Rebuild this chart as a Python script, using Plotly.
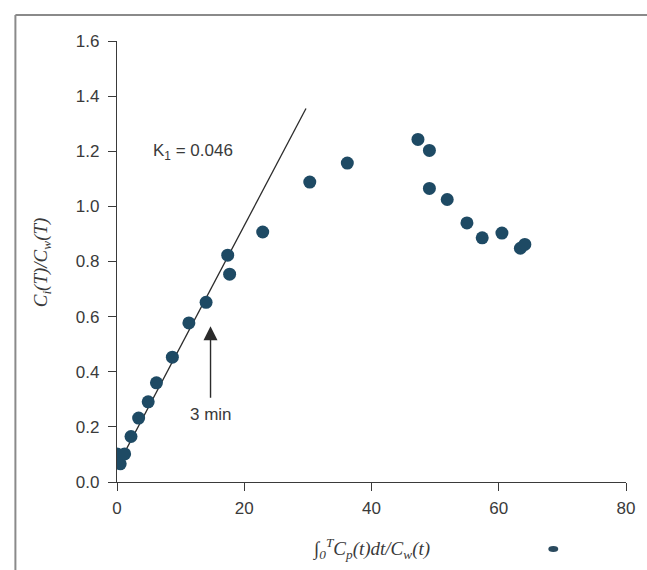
import plotly.graph_objects as go

# data
x_vals = [0.0, 0.5, 1.2, 2.2, 3.4, 4.9, 6.2, 8.7, 11.3, 14.0, 17.4, 17.7, 22.9,
          30.3, 36.2, 47.3, 49.1, 49.1, 51.9, 55.0, 57.4, 60.5, 63.4, 64.1]
y_vals = [0.102, 0.066, 0.102, 0.165, 0.232, 0.291, 0.36, 0.453, 0.577, 0.652,
          0.823, 0.754, 0.907, 1.088, 1.157, 1.243, 1.203, 1.065, 1.025, 0.94,
          0.886, 0.903, 0.848, 0.862]
fit_x = [0.0, 29.7]
fit_y = [0.055, 1.355]
x_ticks = [0, 20, 40, 60, 80]
y_ticks = [0.0, 0.2, 0.4, 0.6, 0.8, 1.0, 1.2, 1.4, 1.6]
y_ticklabels = ["0.0", "0.2", "0.4", "0.6", "0.8", "1.0", "1.2", "1.4", "1.6"]

W, H = 647, 570
L, R, T, B = 117, 19, 41, 88
pw, ph = W - L - R, H - T - B

def px2paper_x(px):
    return (px - L) / pw

def px2paper_y(py):
    return (H - B - py) / ph

dot_color = "#1e4a64"
text_color = "#3a3a3a"

fig = go.Figure()
fig.add_trace(go.Scatter(x=fit_x, y=fit_y, mode="lines",
                         line=dict(color="#2b2b2b", width=1.3),
                         hoverinfo="skip", showlegend=False))
fig.add_trace(go.Scatter(x=x_vals, y=y_vals, mode="markers",
                         marker=dict(color=dot_color, size=13, line=dict(width=0)),
                         showlegend=False))

axis_common = dict(showgrid=False, zeroline=False, showline=True,
                   linecolor="#3a3a3a", linewidth=1.3, ticks="outside",
                   ticklen=8, tickwidth=1.3, tickcolor="#3a3a3a",
                   tickfont=dict(family="Liberation Sans, Arial", size=17, color=text_color))

fig.update_xaxes(range=[0, 80], tickvals=x_ticks, ticklabelstandoff=2, **axis_common)
fig.update_yaxes(range=[0, 1.6], tickvals=y_ticks, ticktext=y_ticklabels,
                 ticklabelstandoff=5, **axis_common)

annotations = [
    dict(x=12.0, y=1.197, xref="x", yref="y", text="K<sub>1</sub> = 0.046", showarrow=False,
         font=dict(family="Liberation Sans, Arial", size=17, color=text_color)),
    dict(x=14.7, y=0.565, xref="x", yref="y", ax=14.7, ay=0.30, axref="x", ayref="y",
         text="", showarrow=True, arrowhead=2, arrowsize=2.0, arrowwidth=1.4,
         arrowcolor="#2b2b2b"),
    dict(x=14.7, y=0.246, xref="x", yref="y", text="3 min", showarrow=False,
         font=dict(family="Liberation Sans, Arial", size=17, color=text_color)),
    dict(x=px2paper_x(372), y=px2paper_y(548), xref="paper", yref="paper",
         xanchor="center", yanchor="middle",
         text="<i>∫<sub>0</sub><sup>T</sup>C<sub>p</sub>(t)dt/C<sub>w</sub>(t)</i>",
         showarrow=False,
         font=dict(family="Liberation Serif, Times New Roman", size=19, color=text_color)),
    dict(x=px2paper_x(42), y=px2paper_y(262), xref="paper", yref="paper",
         xanchor="center", yanchor="middle",
         text="<i>C<sub>i</sub>(T)/C<sub>w</sub>(T)</i>", textangle=-90,
         showarrow=False,
         font=dict(family="Liberation Serif, Times New Roman", size=19, color=text_color)),
]

shapes = [
    # scanned page frame
    dict(type="line", xref="paper", yref="paper",
         x0=px2paper_x(15), y0=px2paper_y(15), x1=px2paper_x(650), y1=px2paper_y(15),
         line=dict(color="#8a8a8a", width=2)),
    dict(type="line", xref="paper", yref="paper",
         x0=px2paper_x(15), y0=px2paper_y(15), x1=px2paper_x(15), y1=px2paper_y(575),
         line=dict(color="#8a8a8a", width=2)),
    # small scan speck near bottom right
    dict(type="circle", xref="paper", yref="paper",
         x0=px2paper_x(550), y0=px2paper_y(546), x1=px2paper_x(560), y1=px2paper_y(552),
         fillcolor="#2a4a5e", line=dict(width=0)),
]

fig.update_layout(width=W, height=H, margin=dict(l=L, r=R, t=T, b=B),
                  paper_bgcolor="white", plot_bgcolor="white",
                  annotations=annotations, shapes=shapes, showlegend=False)

fig.write_html("out.html")
